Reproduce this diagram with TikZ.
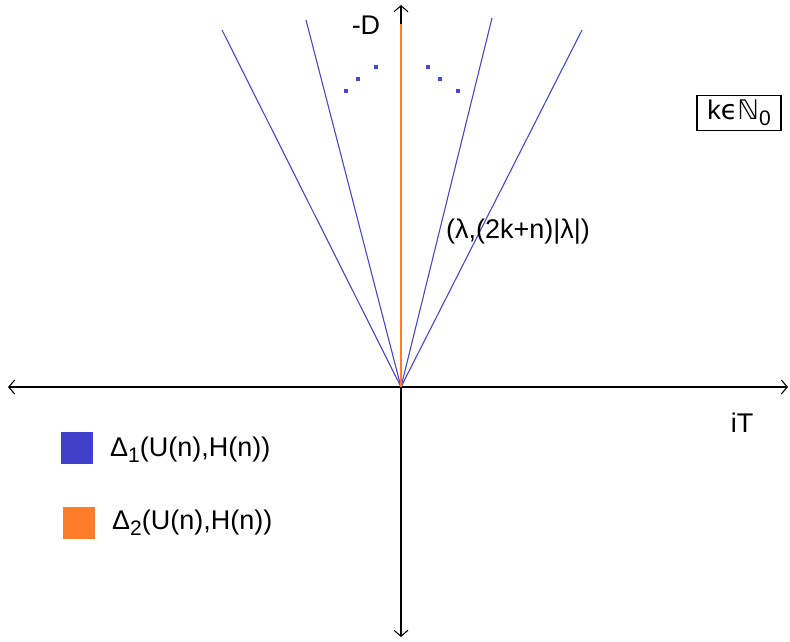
\documentclass[tikz,border=0pt]{standalone}
\usepackage{fontspec}
\setmainfont{Liberation Sans}
\newfontfamily\symfont{DejaVu Sans}
\usetikzlibrary{arrows.meta}
\definecolor{lineblue}{RGB}{70,70,215}
\definecolor{boxblue}{RGB}{64,64,200}
\definecolor{lineorange}{RGB}{255,125,40}
\newcommand{\lowidx}[1]{\raisebox{-0.22em}{\fontsize{21}{23}\selectfont #1}}
\tikzset{
  axis/.style={draw=black, line width=1.1pt, arrows={Straight Barb[length=6pt,width=14pt]-Straight Barb[length=6pt,width=14pt]}},
  ray/.style={draw=lineblue, line width=1.1pt},
  label/.style={inner sep=0pt, font=\fontsize{27}{30}\selectfont},
  dot/.style={fill=lineblue, inner sep=0pt, minimum size=4pt},
}
\begin{document}
\begin{tikzpicture}[x=1pt, y=-1pt]
\useasboundingbox (0, 0) rectangle (790, 641);

\coordinate (o) at (401, 387);
\coordinate (xl) at (8, 387);
\coordinate (xr) at (788, 387);
\coordinate (yt) at (401, 5);
\coordinate (yb) at (401, 637);

\coordinate (r1) at (222, 30);
\coordinate (r2) at (306, 20);
\coordinate (r3) at (492, 18);
\coordinate (r4) at (582, 30);
\coordinate (r0) at (401, 24);

\draw [ray] (o) -- (r1);
\draw [ray] (o) -- (r2);
\draw [ray] (o) -- (r3);
\draw [ray] (o) -- (r4);

\draw [axis] (xl) -- (xr);
\draw [axis] (yb) -- (yt);
\draw [draw=lineorange, line width=1.8pt] (o) -- (r0);

\node (d1) [dot] at (346, 91) {};
\node (d2) [dot] at (358, 79) {};
\node (d3) [dot] at (376, 67) {};
\node (d4) [dot] at (428, 67) {};
\node (d5) [dot] at (440, 79) {};
\node (d6) [dot] at (458, 91) {};

\node (ylab) [label] at (366, 25) {-D};
\node (xlab) [label] at (742, 423) {iT};
\node (pt) [label] at (518, 232) {(λ,(2k+n)|λ|)};
\node (kset) [label, draw=black, line width=1.2pt, inner sep=2pt, minimum width=84pt, minimum height=35pt] at (739, 113) {k{\symfont ϵℕ}\lowidx{0}};

\node (key1) [fill=boxblue, inner sep=0pt, minimum size=32pt] at (77, 448) {};
\node (key2) [fill=lineorange, inner sep=0pt, minimum size=32pt] at (79, 523) {};
\node (txt1) [label, anchor=west] at (110, 450) {Δ\lowidx{1}(U(n),H(n))};
\node (txt2) [label, anchor=west] at (112, 523) {Δ\lowidx{2}(U(n),H(n))};
\end{tikzpicture}
\end{document}
